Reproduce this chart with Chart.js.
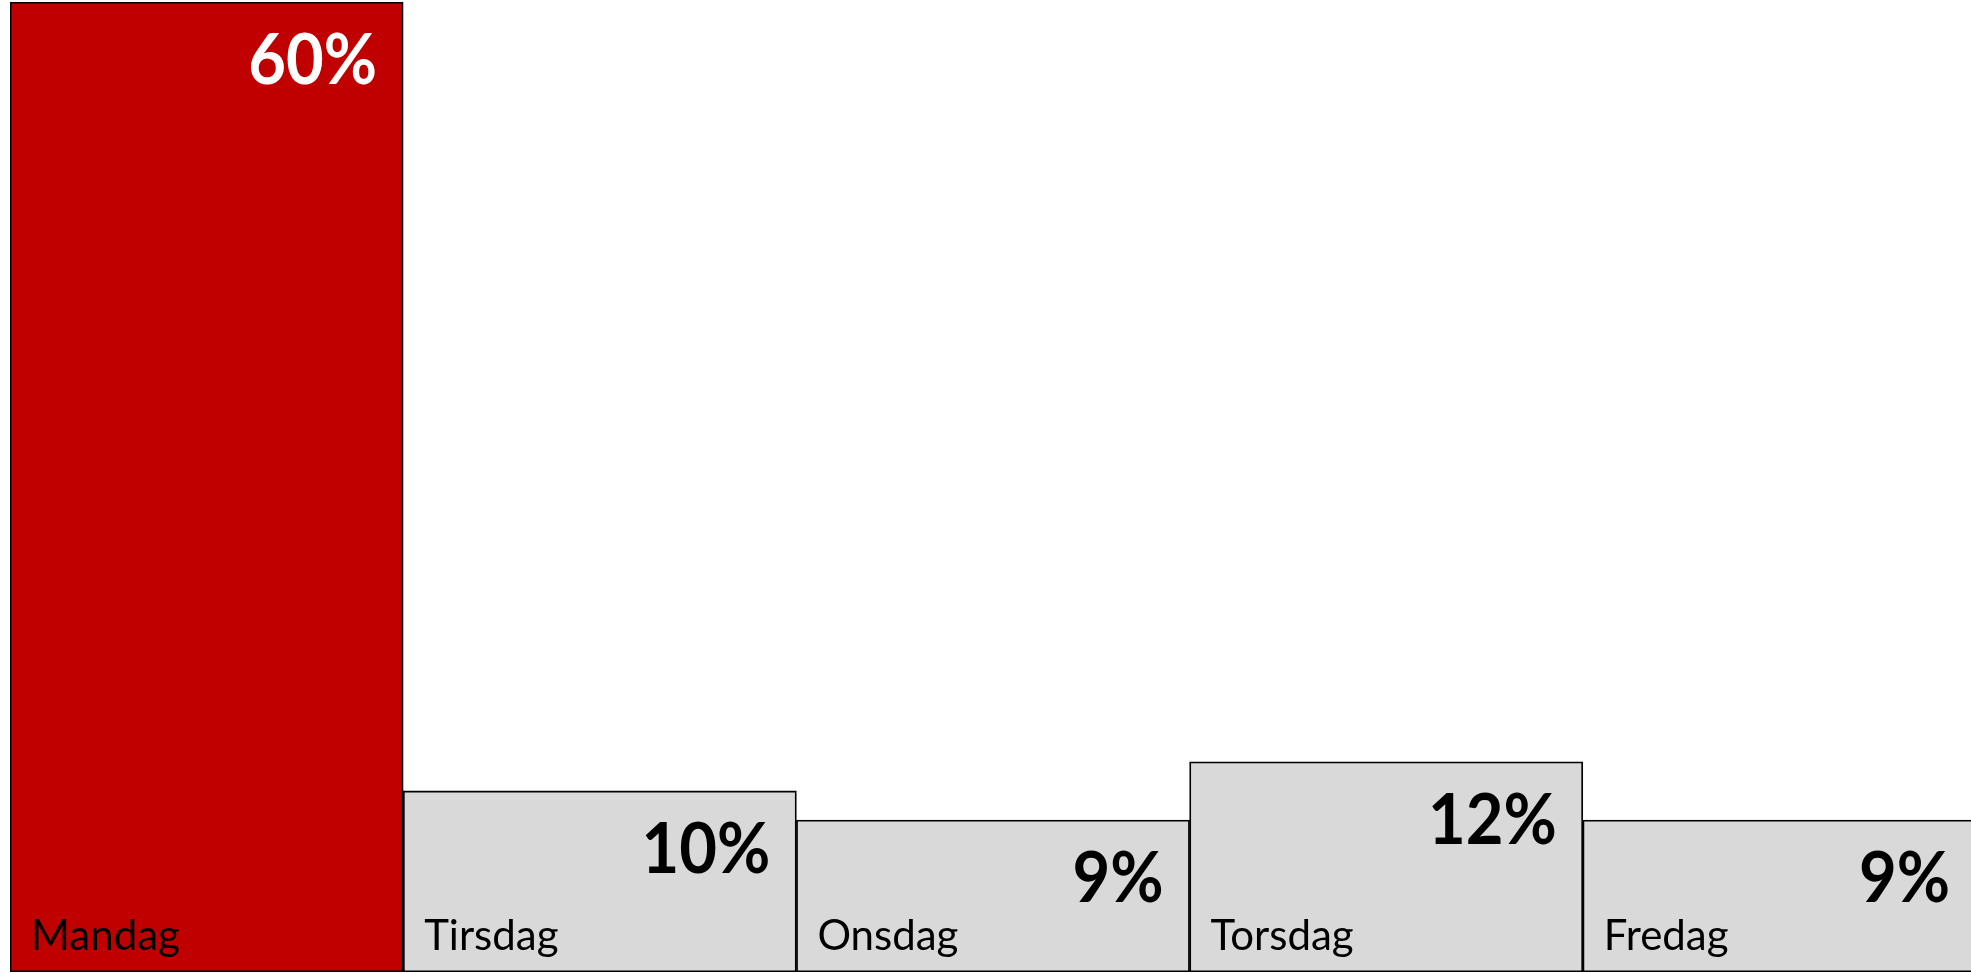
<!DOCTYPE html>
<html>
<head>
<meta charset="utf-8">
<script src="https://cdn.jsdelivr.net/npm/chart.js@4.4.1/dist/chart.umd.min.js"></script>
<style>
  html, body { margin: 0; padding: 0; background: #ffffff; overflow: hidden; }
  #wrap { width: 1976px; height: 973px; }
</style>
</head>
<body>
<div id="wrap"><canvas id="dayChart"></canvas></div>
<script>
// Data lest av bildet
const days = ["Mandag", "Tirsdag", "Onsdag", "Torsdag", "Fredag"];
const shares = [60, 11.2, 9.4, 13.0, 9.4];
const shareLabels = ["60%", "10%", "9%", "12%", "9%"];
const barColors = ["#C00000", "#D9D9D9", "#D9D9D9", "#D9D9D9", "#D9D9D9"];
const valueColors = ["#FFFFFF", "#000000", "#000000", "#000000", "#000000"];

// Tegner prosent og dagnavn inne i hver stolpe
const barTextPlugin = {
  id: "barText",
  afterDatasetsDraw(chart) {
    const ctx = chart.ctx;
    const meta = chart.getDatasetMeta(0);
    meta.data.forEach((bar, i) => {
      const { x, y, base, width } = bar.getProps(["x", "y", "base", "width"], true);
      const left = x - width / 2;
      const right = x + width / 2;

      // prosent, litt smalere skrift (ligner Calibri)
      ctx.save();
      ctx.textBaseline = "alphabetic";
      ctx.font = "bold 70px Lato";
      ctx.fillStyle = valueColors[i];
      ctx.textAlign = "right";
      ctx.translate(right - 26, y + 82);
      ctx.scale(0.93, 1);
      ctx.fillText(shareLabels[i], 0, 0);
      ctx.restore();

      ctx.save();
      ctx.font = "42px Lato";
      ctx.fillStyle = "#000000";
      ctx.textAlign = "left";
      ctx.textBaseline = "alphabetic";
      ctx.fillText(days[i], left + 21, base - 22);
      ctx.restore();
    });
  },
};

function initChart() {
  const config = {
    type: "bar",
    data: {
      labels: days,
      datasets: [
        {
          data: shares,
          backgroundColor: barColors,
          borderColor: "#000000",
          borderWidth: 1.8,
          borderSkipped: false,
          barPercentage: 1,
          categoryPercentage: 1,
        },
      ],
    },
    options: {
      responsive: true,
      maintainAspectRatio: false,
      animation: false,
      devicePixelRatio: 1,
      layout: { padding: { left: 10, right: 0, top: 2, bottom: 1 } },
      plugins: { legend: { display: false }, tooltip: { enabled: false } },
      scales: {
        x: { display: false },
        y: { display: false, min: 0, max: 60 },
      },
    },
    plugins: [barTextPlugin],
  };
  new Chart(document.getElementById("dayChart"), config);
}

document.addEventListener("DOMContentLoaded", () => {
  initChart();
});
</script>
</body>
</html>
